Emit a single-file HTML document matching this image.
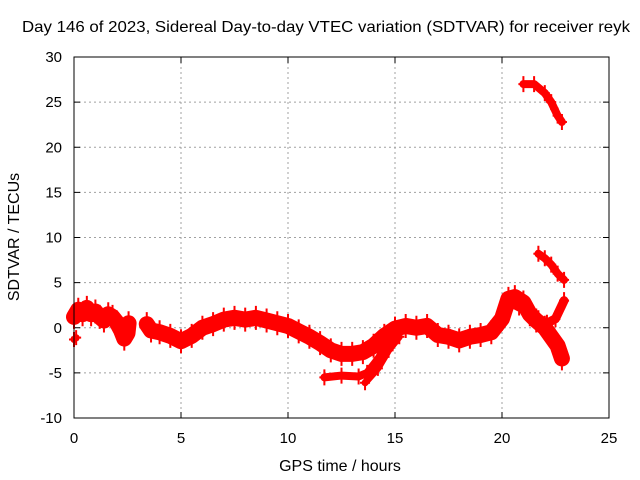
<!DOCTYPE html>
<html><head><meta charset="utf-8"><style>
body{margin:0;background:#fff}
svg{display:block;font-family:"Liberation Sans",sans-serif}
</style></head><body>
<svg id="chart" width="640" height="480">
<text x="326" y="32" font-size="16" text-anchor="middle" textLength="608" lengthAdjust="spacingAndGlyphs">Day 146 of 2023, Sidereal Day-to-day VTEC variation (SDTVAR) for receiver reyk</text>
<text x="340" y="471" font-size="16" text-anchor="middle">GPS time / hours</text>
<text transform="translate(19,237) rotate(-90)" font-size="16" text-anchor="middle">SDTVAR / TECUs</text>
<g id="grid"></g><g id="ticks"></g><g id="marks"></g>
<rect x="74" y="57" width="535" height="361" fill="none" stroke="#000" stroke-width="1"/>
</svg>
<script>
const xTicks=[0,5,10,15,20,25];
const yTicks=[-10,-5,0,5,10,15,20,25,30];
const seriesEarly=[[0,1.2],[0.2,2],[0.4,1.5],[0.6,2.2],[0.8,1.5],[1,1.8],[1.2,1.2],[1.4,0.8],[1.6,1.5],[1.8,1.2],[2,0.6],[2.2,-0.3],[2.35,-1.2],[2.5,-0.6],[2.55,0.5]];
const seriesEarly2=[[0,-1.3],[0.1,-1.1]];
const seriesMain=[[3.4,0.4],[3.6,-0.3],[4,-0.5],[4.5,-0.9],[5,-1.5],[5.5,-0.9],[6,0],[6.5,0.4],[7,0.9],[7.5,1.1],[8,0.9],[8.5,1.1],[9,0.8],[9.5,0.5],[10,0.2],[10.5,-0.4],[11,-1],[11.5,-1.7],[12,-2.5],[12.5,-2.9],[13,-2.9],[13.5,-2.7],[14,-2],[14.5,-0.9],[15,-0.1],[15.5,0.2],[16,0],[16.5,0.2],[17,-0.8],[17.5,-1],[18,-1.4],[18.5,-1],[19,-0.8],[19.5,-0.5],[20,1],[20.3,3.2],[20.6,3.4],[21,2.8],[21.3,1.5],[21.6,0.8],[22,0],[22.3,-1],[22.6,-2],[22.8,-3.4]];
const seriesBranch=[[20.4,2.8],[20.8,2.3],[21.3,2],[21.7,1],[22.1,0.5],[22.5,1],[22.9,3]];
const seriesLow1=[[11.7,-5.5],[12.5,-5.3],[13.3,-5.4],[13.7,-5],[14.2,-3.5],[14.6,-2],[15,-0.5]];
const seriesLow2=[[13.6,-6.1],[14.2,-4.5],[14.7,-2.5],[15.2,-1]];
const seriesTop=[[21,27],[21.5,27],[22,26],[22.3,25],[22.6,23.5],[22.8,22.8]];
const seriesMid=[[21.7,8.2],[22,7.7],[22.3,7],[22.6,6],[22.9,5.3]];
const NS='http://www.w3.org/2000/svg';
const X=v=>74+v*535/25, Y=v=>418-(v+10)*361/40;
const grid=document.getElementById('grid'),ticks=document.getElementById('ticks'),marks=document.getElementById('marks');
function mk(tag,attrs,parent){const e=document.createElementNS(NS,tag);for(const k in attrs)e.setAttribute(k,attrs[k]);parent.appendChild(e);return e;}
xTicks.forEach(t=>{const x=X(t);
 if(t>0&&t<25){const g=mk('line',{x1:x,x2:x,y1:57,y2:418,stroke:'#a0a0a0','stroke-dasharray':'2,3'},grid);}
 mk('line',{x1:x,x2:x,y1:418,y2:412,stroke:'#000'},ticks);mk('line',{x1:x,x2:x,y1:57,y2:63,stroke:'#000'},ticks);
 const l=mk('text',{x:x,y:443,'font-size':15,'text-anchor':'middle'},ticks);l.textContent=t;
 });
yTicks.forEach(t=>{const y=Y(t);
 if(t>-10&&t<30){const g=mk('line',{x1:74,x2:609,y1:y,y2:y,stroke:'#a0a0a0','stroke-dasharray':'2,3'},grid);}
 mk('line',{x1:74,x2:80,y1:y,y2:y,stroke:'#000'},ticks);mk('line',{x1:609,x2:603,y1:y,y2:y,stroke:'#000'},ticks);
 const l=mk('text',{x:62,y:y+5,'font-size':15,'text-anchor':'end'},ticks);l.textContent=t;
 });
function draw(data,name,w){
 const p=mk('polyline',{points:data.map(d=>X(d[0])+','+Y(d[1])).join(' '),fill:'none',stroke:'#f00','stroke-width':w,'stroke-linejoin':'round','stroke-linecap':'round'},marks);
 
 data.forEach(d=>{const x=X(d[0]),y=Y(d[1]),h=w/2+4;
  const m=mk('path',{d:`M${x-5} ${y}H${x+5}M${x} ${y-h}V${y+h}`,stroke:'#f00','stroke-width':2},marks);
  });
}
draw(seriesEarly,'series-early',16);
draw(seriesEarly2,'series-early-low',7);
draw(seriesMain,'series-main',16);
draw(seriesBranch,'series-branch',9);
draw(seriesLow1,'series-low-1',8);
draw(seriesLow2,'series-low-2',7);
draw(seriesTop,'series-top',8);
draw(seriesMid,'series-mid',8);
</script>
</body></html>
